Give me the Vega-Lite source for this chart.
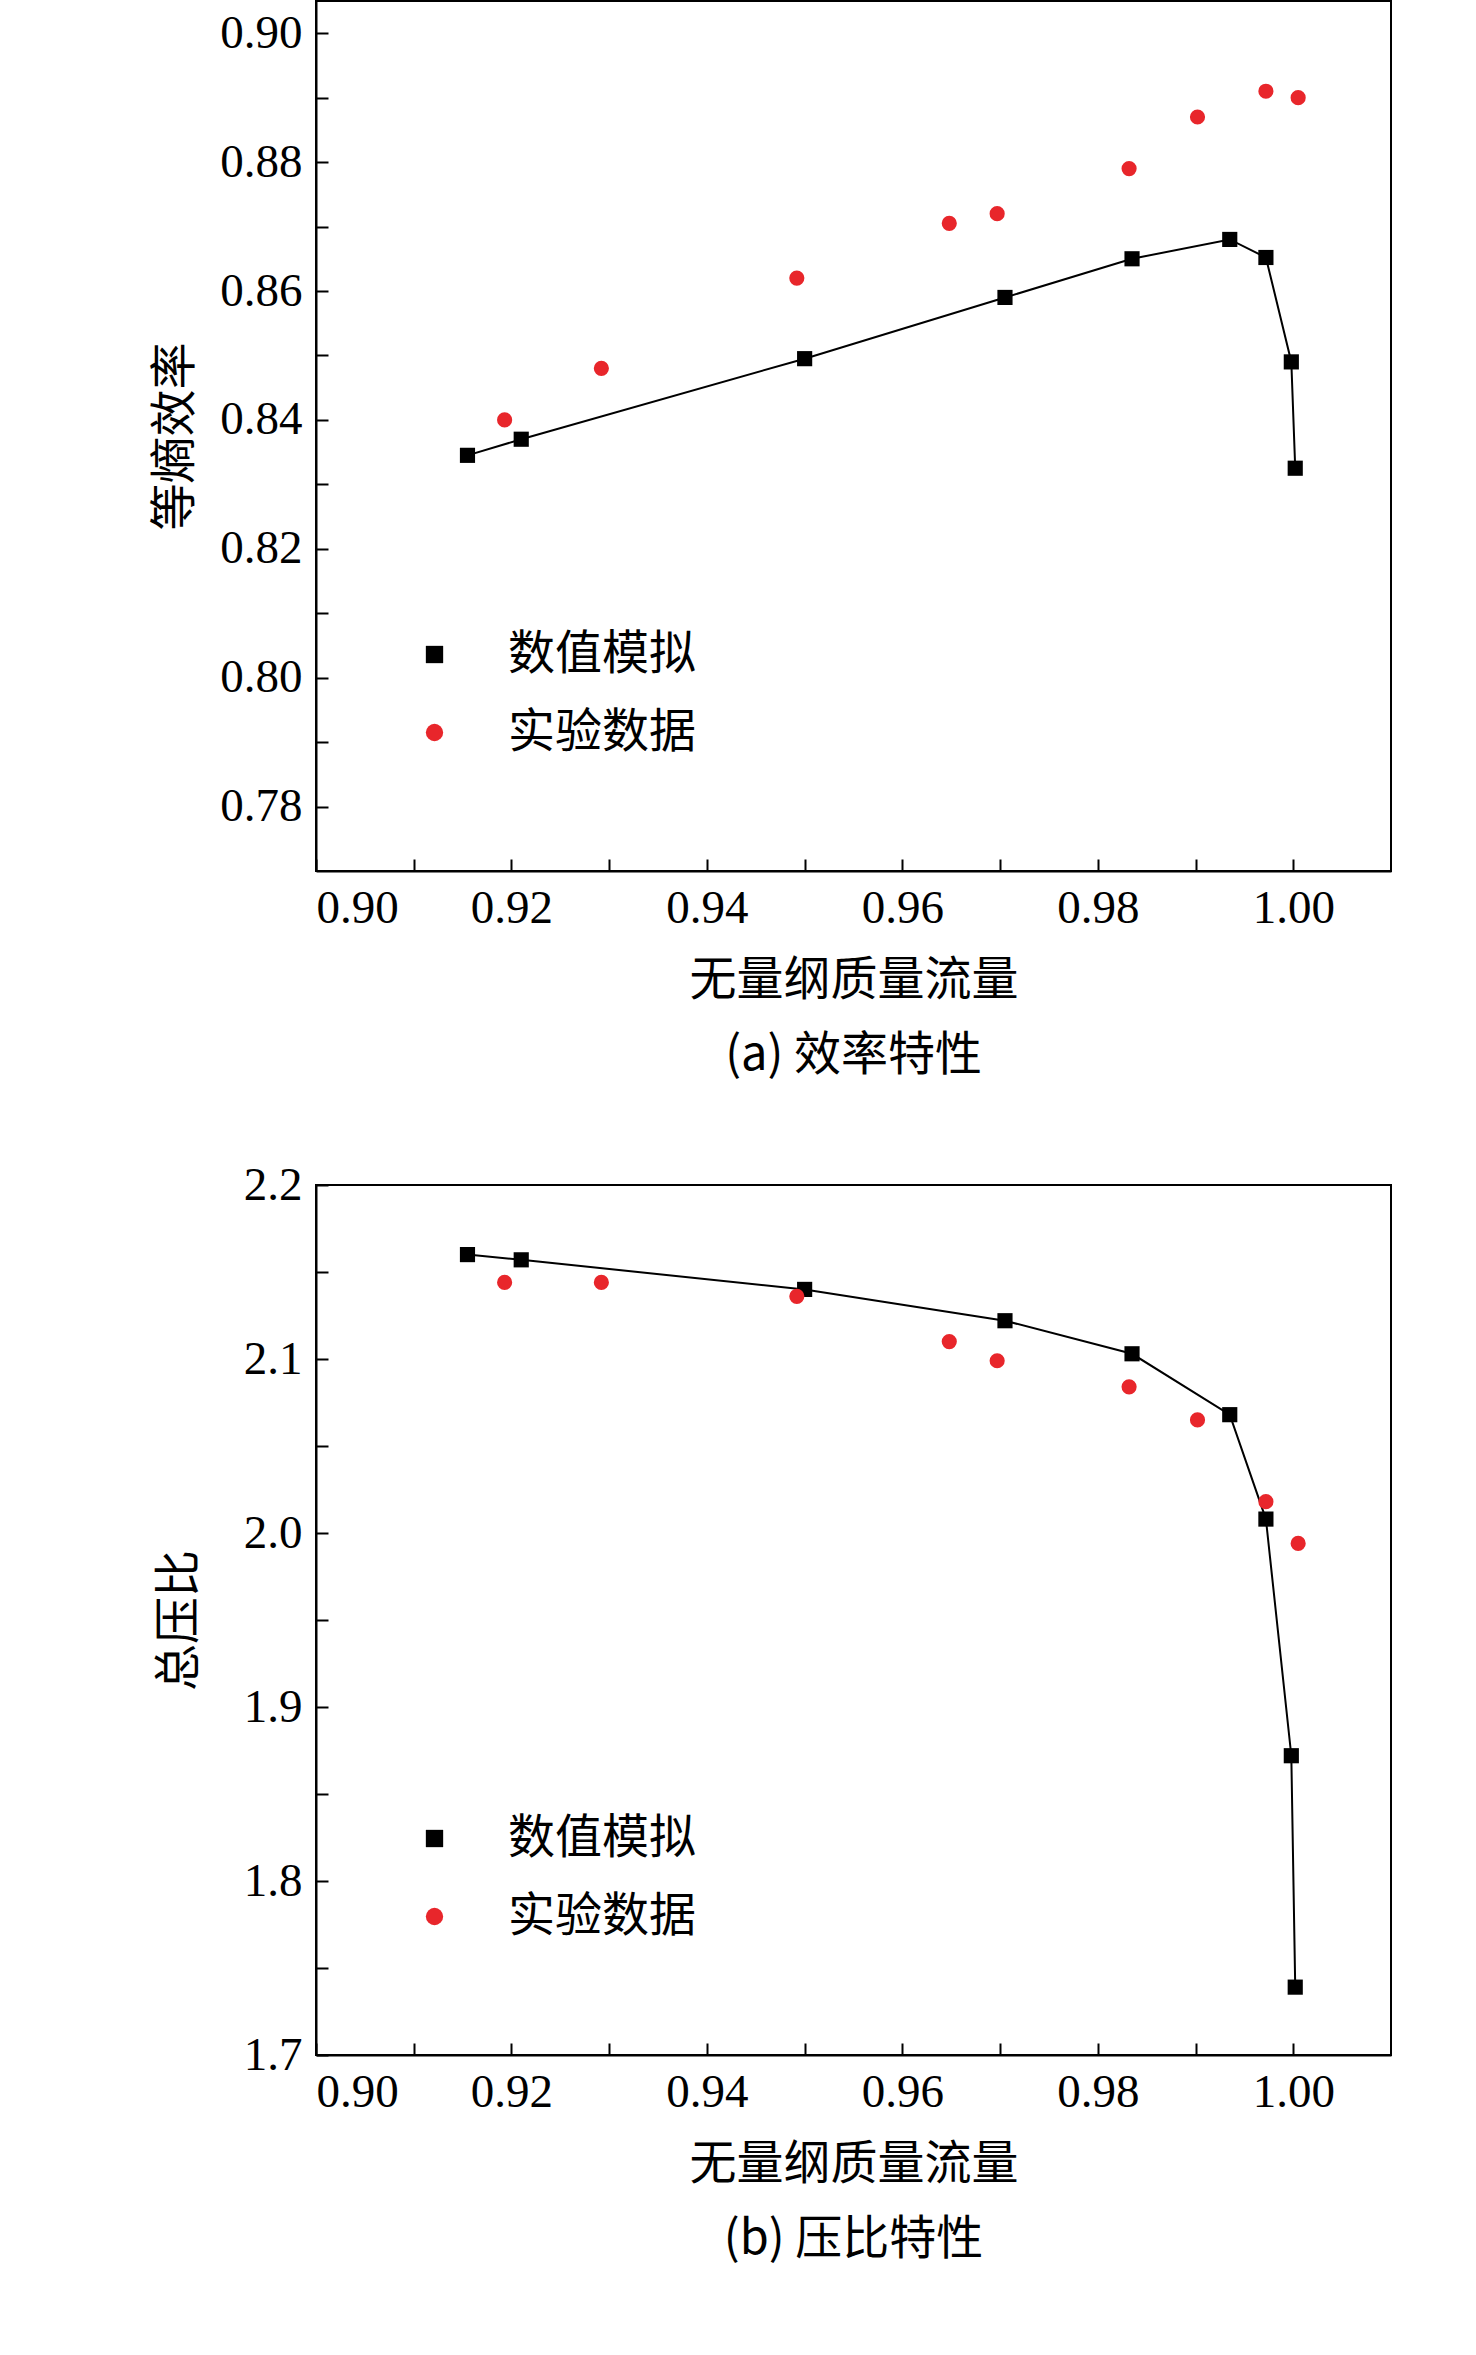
{
  "$schema": "https://vega.github.io/schema/vega-lite/v6.json",
  "padding": {"left": 150, "top": 0, "right": 60, "bottom": 10},
  "background": "white",
  "config": {
    "font": "Liberation Serif",
    "view": {"stroke": "black", "strokeWidth": 2},
    "axis": {"labelFont": "Liberation Serif, Times New Roman, serif", "labelFontSize": 47, "labelColor": "black", "labelLimit": 0, "titleFont": "Noto Sans CJK SC", "titleFontSize": 47, "titleFontWeight": "normal", "titleColor": "black", "domainColor": "black", "domainWidth": 2, "tickColor": "black", "tickWidth": 2, "tickSize": -12, "grid": false, "labelPadding": 26},
    "legend": {"labelFont": "Noto Sans CJK SC", "labelFontSize": 47, "labelColor": "black", "labelLimit": 0, "symbolSize": 300, "rowPadding": 30, "labelOffset": 50},
    "title": {"font": "Noto Sans CJK SC", "fontSize": 47, "fontWeight": "normal", "color": "black"}
  },
  "datasets": {
    "eff": [
      {"m": 0.9155, "v": 0.8345, "s": "数值模拟"},
      {"m": 0.921, "v": 0.837, "s": "数值模拟"},
      {"m": 0.950, "v": 0.8495, "s": "数值模拟"},
      {"m": 0.9705, "v": 0.859, "s": "数值模拟"},
      {"m": 0.9835, "v": 0.865, "s": "数值模拟"},
      {"m": 0.9935, "v": 0.868, "s": "数值模拟"},
      {"m": 0.9972, "v": 0.8652, "s": "数值模拟"},
      {"m": 0.9998, "v": 0.849, "s": "数值模拟"},
      {"m": 1.0002, "v": 0.8325, "s": "数值模拟"},
      {"m": 0.9193, "v": 0.840, "s": "实验数据"},
      {"m": 0.9292, "v": 0.848, "s": "实验数据"},
      {"m": 0.9492, "v": 0.862, "s": "实验数据"},
      {"m": 0.9648, "v": 0.8705, "s": "实验数据"},
      {"m": 0.9697, "v": 0.872, "s": "实验数据"},
      {"m": 0.9832, "v": 0.879, "s": "实验数据"},
      {"m": 0.9902, "v": 0.887, "s": "实验数据"},
      {"m": 0.9972, "v": 0.891, "s": "实验数据"},
      {"m": 1.0005, "v": 0.890, "s": "实验数据"}
    ],
    "pr": [
      {"m": 0.9155, "v": 2.160, "s": "数值模拟"},
      {"m": 0.921, "v": 2.157, "s": "数值模拟"},
      {"m": 0.950, "v": 2.140, "s": "数值模拟"},
      {"m": 0.9705, "v": 2.122, "s": "数值模拟"},
      {"m": 0.9835, "v": 2.103, "s": "数值模拟"},
      {"m": 0.9935, "v": 2.068, "s": "数值模拟"},
      {"m": 0.9972, "v": 2.008, "s": "数值模拟"},
      {"m": 0.9998, "v": 1.872, "s": "数值模拟"},
      {"m": 1.0002, "v": 1.739, "s": "数值模拟"},
      {"m": 0.9193, "v": 2.144, "s": "实验数据"},
      {"m": 0.9292, "v": 2.144, "s": "实验数据"},
      {"m": 0.9492, "v": 2.136, "s": "实验数据"},
      {"m": 0.9648, "v": 2.110, "s": "实验数据"},
      {"m": 0.9697, "v": 2.099, "s": "实验数据"},
      {"m": 0.9832, "v": 2.084, "s": "实验数据"},
      {"m": 0.9902, "v": 2.065, "s": "实验数据"},
      {"m": 0.9972, "v": 2.018, "s": "实验数据"},
      {"m": 1.0005, "v": 1.994, "s": "实验数据"}
    ]
  },
  "vconcat": [
    {
      "width": 1075,
      "height": 870,
      "title": {"text": "(a) 效率特性", "orient": "bottom", "offset": 30},
      "data": {"name": "eff"},
      "layer": [
        {
          "mark": {"type": "line", "color": "black", "strokeWidth": 2},
          "transform": [{"filter": "datum.s == '数值模拟'"}],
          "encoding": {
            "x": {"field": "m", "type": "quantitative"},
            "y": {"field": "v", "type": "quantitative"}
          }
        },
        {
          "mark": {"type": "point", "filled": true, "opacity": 1, "size": 230},
          "encoding": {
            "x": {"field": "m", "type": "quantitative", "title": "无量纲质量流量", "scale": {"domain": [0.9, 1.01], "nice": false, "zero": false},
              "axis": {"values": [0.9, 0.91, 0.92, 0.93, 0.94, 0.95, 0.96, 0.97, 0.98, 0.99, 1.0], "labelExpr": "round(datum.value*100)%2==0 ? format(datum.value,'.2f') : ''", "titlePadding": 26}},
            "y": {"field": "v", "type": "quantitative", "title": "等熵效率", "scale": {"domain": [0.77, 0.905], "nice": false, "zero": false},
              "axis": {"values": [0.78, 0.79, 0.8, 0.81, 0.82, 0.83, 0.84, 0.85, 0.86, 0.87, 0.88, 0.89, 0.9], "labelExpr": "round(datum.value*100)%2==0 ? format(datum.value,'.2f') : ''", "titlePadding": 20}},
            "shape": {"field": "s", "type": "nominal", "scale": {"domain": ["数值模拟", "实验数据"], "range": ["square", "circle"]},
              "legend": {"title": null, "orient": "none", "legendX": 95, "legendY": 630}},
            "color": {"field": "s", "type": "nominal", "scale": {"domain": ["数值模拟", "实验数据"], "range": ["black", "#e8262b"]},
              "legend": {"title": null, "orient": "none", "legendX": 95, "legendY": 630}}
          }
        }
      ]
    },
    {
      "width": 1075,
      "height": 870,
      "title": {"text": "(b) 压比特性", "orient": "bottom", "offset": 30},
      "data": {"name": "pr"},
      "layer": [
        {
          "mark": {"type": "line", "color": "black", "strokeWidth": 2},
          "transform": [{"filter": "datum.s == '数值模拟'"}],
          "encoding": {
            "x": {"field": "m", "type": "quantitative"},
            "y": {"field": "v", "type": "quantitative"}
          }
        },
        {
          "mark": {"type": "point", "filled": true, "opacity": 1, "size": 230},
          "encoding": {
            "x": {"field": "m", "type": "quantitative", "title": "无量纲质量流量", "scale": {"domain": [0.9, 1.01], "nice": false, "zero": false},
              "axis": {"values": [0.9, 0.91, 0.92, 0.93, 0.94, 0.95, 0.96, 0.97, 0.98, 0.99, 1.0], "labelExpr": "round(datum.value*100)%2==0 ? format(datum.value,'.2f') : ''", "titlePadding": 26}},
            "y": {"field": "v", "type": "quantitative", "title": "总压比", "scale": {"domain": [1.7, 2.2], "nice": false, "zero": false},
              "axis": {"values": [1.7, 1.75, 1.8, 1.85, 1.9, 1.95, 2.0, 2.05, 2.1, 2.15, 2.2], "labelExpr": "round(datum.value*100)%10==0 ? format(datum.value,'.1f') : ''", "titlePadding": 40}},
            "shape": {"field": "s", "type": "nominal", "scale": {"domain": ["数值模拟", "实验数据"], "range": ["square", "circle"]},
              "legend": {"title": null, "orient": "none", "legendX": 95, "legendY": 630}},
            "color": {"field": "s", "type": "nominal", "scale": {"domain": ["数值模拟", "实验数据"], "range": ["black", "#e8262b"]},
              "legend": {"title": null, "orient": "none", "legendX": 95, "legendY": 630}}
          }
        }
      ]
    }
  ],
  "resolve": {"legend": {"shape": "independent", "color": "independent"}},
  "spacing": 80
}
